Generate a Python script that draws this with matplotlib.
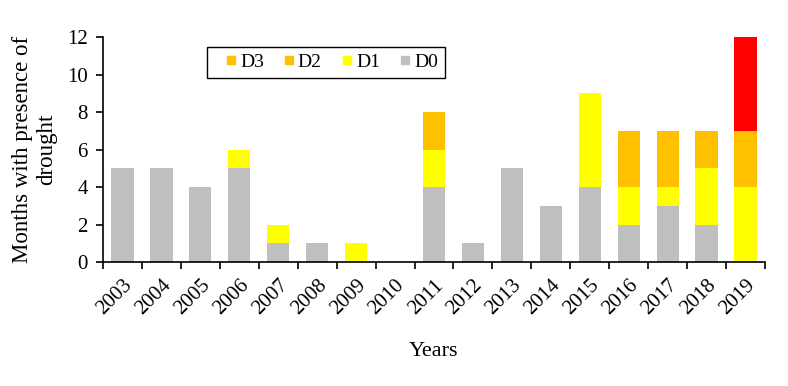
import numpy as np
import matplotlib.pyplot as plt
from matplotlib.lines import Line2D

# данные: месяцы с засухой по годам и категориям
years = [str(y) for y in range(2003, 2020)]
d0 = [5, 5, 4, 5, 1, 1, 0, 0, 4, 1, 5, 3, 4, 2, 3, 2, 0]
d1 = [0, 0, 0, 1, 1, 0, 1, 0, 2, 0, 0, 0, 5, 2, 1, 3, 4]
d2 = [0, 0, 0, 0, 0, 0, 0, 0, 2, 0, 0, 0, 0, 3, 3, 2, 3]
d3 = [0, 0, 0, 0, 0, 0, 0, 0, 0, 0, 0, 0, 0, 0, 0, 0, 5]

c_d0 = '#bfbfbf'
c_d1 = '#ffff00'
c_d2 = '#ffc000'
c_d3 = '#ff0000'

plt.rcParams['font.family'] = ['Liberation Serif', 'DejaVu Serif']

fig = plt.figure(figsize=(7.88, 3.86), dpi=100)
ax = fig.add_axes([0.1307, 0.321, 0.8401, 0.583])

x = np.arange(len(years))
w = 0.57
b1 = np.array(d0)
b2 = b1 + np.array(d1)
b3 = b2 + np.array(d2)
ax.bar(x, d0, width=w, color=c_d0)
ax.bar(x, d1, width=w, bottom=b1, color=c_d1)
ax.bar(x, d2, width=w, bottom=b2, color=c_d2)
ax.bar(x, d3, width=w, bottom=b3, color=c_d3)

ax.set_xlim(-0.5, len(years) - 0.5)
ax.set_ylim(0, 12)
ax.set_yticks(range(0, 13, 2))

# подписи лет по центру, засечки на границах категорий
ax.set_xticks(x)
ax.set_xticklabels(years, rotation=45, ha='right', rotation_mode='anchor')
ax.set_xticks(np.arange(-0.5, len(years)), minor=True)
ax.tick_params(axis='x', which='major', length=0, pad=10, labelsize=15)
ax.tick_params(axis='x', which='minor', length=5, width=1.2, direction='out')
ax.tick_params(axis='y', length=5, width=1.2, labelsize=15, pad=6, direction='out')

for s in ['top', 'right']:
    ax.spines[s].set_visible(False)
for s in ['left', 'bottom']:
    ax.spines[s].set_linewidth(1.2)

ax.set_ylabel('Months with presence of\ndrought', fontsize=16.5, labelpad=7)
ax.set_xlabel('Years', fontsize=16, labelpad=17)

# легенда как в оригинале (D3 там оранжевый), маркеры - маленькие квадраты
handles = [Line2D([], [], marker='s', linestyle='none', markersize=5.5, color=c)
           for c in [c_d2, c_d2, c_d1, c_d0]]
leg = ax.legend(handles, ['D3', 'D2', 'D1', 'D0'], ncol=4, loc='upper left',
                bbox_to_anchor=(0.157, 0.958), borderaxespad=0, fontsize=14,
                fancybox=False, edgecolor='black', framealpha=1,
                handlelength=1.8, handletextpad=-0.45,
                columnspacing=0.4, borderpad=0.35)
leg.get_frame().set_linewidth(1.0)

fig.savefig('out.png', dpi=100)
